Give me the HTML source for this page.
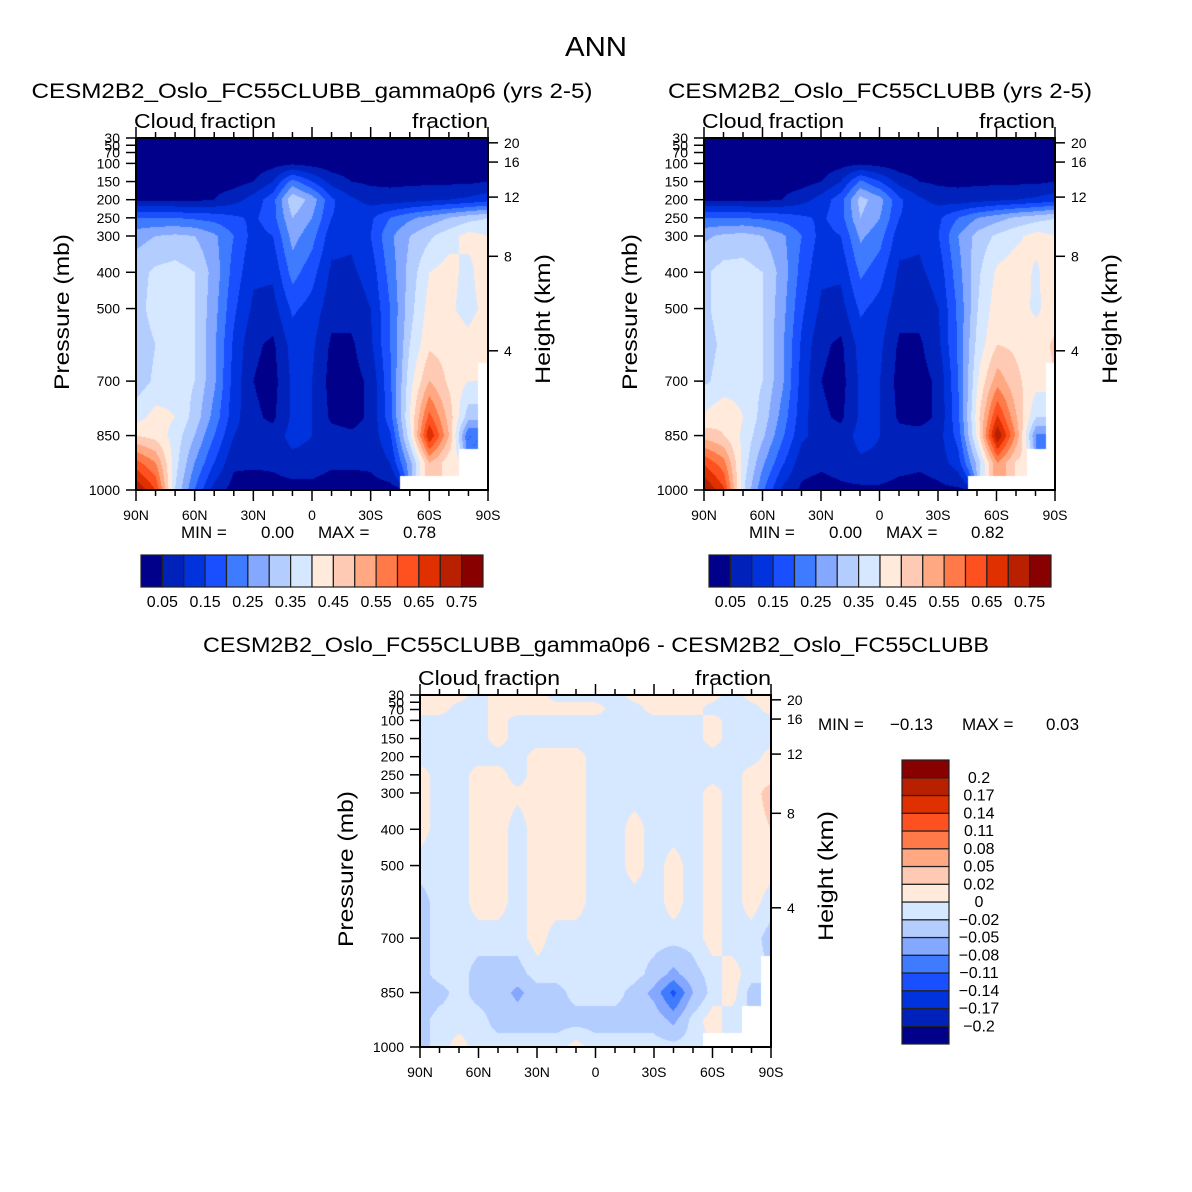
<!DOCTYPE html>
<html><head><meta charset="utf-8"><style>
body{margin:0;background:#fff;}
#wrap{position:relative;width:1192px;height:1192px;overflow:hidden;background:#fff;font-family:"Liberation Sans",sans-serif;}
canvas{position:absolute;}
svg{position:absolute;left:0;top:0;}
</style></head><body>
<div id="wrap">
<canvas id="cA" width="352" height="352" style="left:136px;top:138px"></canvas>
<canvas id="cB" width="352" height="352" style="left:704px;top:138px"></canvas>
<canvas id="cC" width="351" height="352" style="left:420px;top:695px"></canvas>
<svg id="ov" width="1192" height="1192"></svg>
</div>
<script>
// ---- data ----
const lats = [90,80,70,60,50,40,30,20,10,0,-10,-20,-30,-40,-50,-60,-70,-80,-90];
const plevs = [30,70,100,150,200,250,300,400,500,600,700,800,850,925,1000];
const levelsTop = [0.05,0.1,0.15,0.2,0.25,0.3,0.35,0.4,0.45,0.5,0.55,0.6,0.65,0.7,0.75];
const levelsDiff = [-0.2,-0.17,-0.14,-0.11,-0.08,-0.05,-0.02,0,0.02,0.05,0.08,0.11,0.14,0.17,0.2];
const colorsTop = ["#00008b","#0022bb","#0033dd","#1a4fff","#3f7bff","#84a8ff","#b4cdff","#d6e8ff","#ffeadb","#ffcab3","#ffa882","#ff7a48","#ff5020","#e03000","#b82000","#880000"];
const N = null;
// cloud fraction x100, rows = plevs, cols = lats
const fieldA = [
[2,2,2,2,2,2,2,2,2,2,2,2,2,2,2,2,2,2,2],
[2,2,2,2,2,2,2,2,2,2,2,2,2,2,2,2,2,2,2],
[2,2,2,2,2,2,2,3,4,3,2,2,2,2,2,2,2,2,2],
[3,3,3,3,3,3,5,10,22,15,8,5,4,4,4,4,4,4,5],
[4,4,4,4,5,8,12,18,34,28,16,11,8,7,8,9,10,11,13],
[20,20,20,19,18,16,14,18,30,25,15,13,14,20,24,27,30,33,35],
[28,30,31,30,26,20,13,15,27,22,12,11,15,24,30,34,38,42,40],
[33,36,37,35,28,18,11,11,22,17,9,9,12,22,32,40,42,38,45],
[33,37,37,35,27,16,9,8,16,13,7,7,10,20,33,42,41,38,42],
[32,35,37,35,26,14,6,4,12,11,4,4,9,20,35,44,43,42,45],
[32,36,38,35,26,13,5,3,11,10,3,3,6,19,38,50,44,40,N],
[38,42,40,33,23,12,6,4,11,10,4,3,6,18,40,62,48,32,N],
[45,43,38,30,20,10,7,7,12,10,7,6,7,14,38,70,50,20,N],
[62,55,37,25,15,6,6,6,8,8,6,6,6,10,28,50,42,N,N],
[75,65,35,20,8,3,2,3,3,3,2,2,3,3,N,N,N,N,N]];
const fieldB = [
[2,2,2,2,2,2,2,2,2,2,2,2,2,2,2,2,2,2,2],
[2,2,2,2,2,2,2,2,2,2,2,2,2,2,2,2,2,2,2],
[2,2,2,2,2,2,2,3,4,3,2,2,2,2,2,2,2,2,2],
[3,3,3,3,3,3,5,10,21,15,8,5,4,4,4,4,4,4,5],
[4,4,4,4,5,8,12,18,32,27,16,11,8,7,8,9,10,11,13],
[20,20,20,19,18,16,14,18,30,25,15,13,14,20,25,28,31,33,35],
[29,31,32,30,26,20,13,15,26,22,12,11,15,25,32,36,39,42,40],
[34,37,37,35,28,18,11,11,21,17,9,9,12,23,34,41,43,39,45],
[34,37,37,35,27,16,9,8,16,13,7,7,10,21,35,43,42,39,43],
[33,36,37,35,26,14,6,4,12,11,4,4,9,21,37,45,44,43,46],
[34,37,38,35,26,13,5,3,11,10,3,3,6,20,40,53,46,42,N],
[41,44,40,33,23,12,6,4,11,10,4,3,6,19,43,66,50,35,N],
[48,45,39,31,21,11,8,7,12,10,7,7,8,17,42,75,53,24,N],
[64,57,38,26,16,7,6,7,9,9,7,6,7,13,32,55,44,N,N],
[76,66,36,21,9,4,3,4,4,4,3,3,4,4,N,N,N,N,N]];
// difference x100
const fieldC = [
[1,1,1,-1,1,1,1,-1,-1,-1,-1,1,1,1,1,1,-1,1,1],
[1,1,-1,-1,1,1,1,1,1,1,-1,-1,1,1,1,-1,-1,-1,1],
[-1,-1,-1,-1,1,-1,-1,-1,-1,-1,-1,-1,-1,-1,-1,1,-1,-1,-1],
[-1,-1,-1,-1,1,-1,-1,-1,-1,-1,-1,-1,-1,-1,-1,1,-1,-1,-1],
[-1,-1,-1,-1,-1,-1,1,1,1,-1,-1,-1,-1,-1,-1,-1,-1,-1,1],
[1,-1,-1,1,1,-1,1,1,1,-1,-1,-1,-1,-1,-1,-1,-1,1,1],
[1,-1,-1,1,1,0.5,1,1,1,-1,-1,-1,-1,-1,-1,1,-1,1,3],
[1,-1,-1,1,1,-1,1,1,1,-1,-1,1,-1,-1,-1,1,-1,1,2],
[-1,-1,-1,1,1,-1,1,1,1,-1,-1,1,-1,1,-1,1,-1,1,1],
[-3,-1,-1,1,1,-1,1,1,1,-1,-1,-1,-1,1,-1,1,-1,1,-1],
[-3,-1,-1,-1,-1,-1,1,-1,-1,-1,-1,-1,-1,-1,-1,1,-1,-1,-3],
[-3,-1,-1,-3,-3,-3,-1,-1,-1,-1,-1,-1,-3,-6,-3,-1,1,-1,N],
[-4,-3,-1,-3,-3,-6,-3,-3,-1,-1,-1,-3,-6,-12,-5,-1,1,-3,N],
[-3,-1,-1,-1,-3,-3,-3,-3,-3,-3,-3,-3,-3,-6,-1,1,-1,N,N],
[-3,-1,1,-1,-1,-1,-1,-1,1,-1,-1,-1,-1,-1,-1,N,N,N,N]];
const xTickLabels = ["90N","60N","30N","0","30S","60S","90S"];
const pTickLabels = [30,50,70,100,150,200,250,300,400,500,700,850,1000];
const hTickLabels = [20,16,12,8,4];

// ---- rendering ----
function hex(c){return [parseInt(c.substr(1,2),16),parseInt(c.substr(3,2),16),parseInt(c.substr(5,2),16)];}
function pToFrac(p){return (p-30)/970;}
function render(id, field, levels, scale){
  const cv=document.getElementById(id), ctx=cv.getContext('2d');
  const W=cv.width,H=cv.height, img=ctx.createImageData(W,H);
  const cols=colorsTop.map(hex);
  for(let py=0;py<H;py++){
    const p=30+(py+0.5)/H*970;
    let k=0; while(k<plevs.length-2 && p>plevs[k+1]) k++;
    const t=Math.min(1,Math.max(0,(p-plevs[k])/(plevs[k+1]-plevs[k])));
    for(let px=0;px<W;px++){
      const f=(px+0.5)/W*(lats.length-1);
      let i=Math.min(lats.length-2,Math.floor(f)); const s=f-i;
      const cs=[[field[k][i],(1-s)*(1-t)],[field[k][i+1],s*(1-t)],[field[k+1][i],(1-s)*t],[field[k+1][i+1],s*t]];
      const ni=s<0.5?i:i+1, nk=t<0.5?k:k+1;
      const o=(py*W+px)*4;
      if(field[nk][ni]===null){img.data[o]=255;img.data[o+1]=255;img.data[o+2]=255;img.data[o+3]=255;continue;}
      let sw=0,sv=0; cs.forEach(c=>{if(c[0]!==null){sw+=c[1];sv+=c[0]*c[1];}});
      const v=sv/sw/scale;
      let ci=0; for(const l of levels){if(v>=l)ci++;}
      const c=cols[ci]; img.data[o]=c[0];img.data[o+1]=c[1];img.data[o+2]=c[2];img.data[o+3]=255;
    }
  }
  ctx.putImageData(img,0,0);
}
render('cA',fieldA,levelsTop,100);
render('cB',fieldB,levelsTop,100);
render('cC',fieldC,levelsDiff,100);

// ---- annotations ----
const svg=document.getElementById('ov'), NS='http://www.w3.org/2000/svg';
function el(tag,attrs,parent){const e=document.createElementNS(NS,tag);for(const k in attrs)e.setAttribute(k,attrs[k]);(parent||svg).appendChild(e);return e;}
function txt(x,y,s,size,anchor,name,extra){
  const e=el('text',Object.assign({x:x,y:y,'font-size':size,'text-anchor':anchor||'start','font-family':'Liberation Sans, sans-serif',fill:'#000'},extra||{}));
  e.textContent=s;
  
  
  return e;
}
function fit(len){return {textLength:len,lengthAdjust:'spacingAndGlyphs'};}
function line(x1,y1,x2,y2,w,name){
  const e=el('line',{x1:x1,y1:y1,x2:x2,y2:y2,stroke:'#000','stroke-width':w||1.5});
  
  
  return e;
}
function hToP(h){return 1013.25*Math.pow(1-2.25577e-5*h*1000,5.25588);}
function axes(x0,y0,W,H,prefix){
  const g=el('g',{});
  
  
  const fr=el('rect',{x:x0,y:y0,width:W,height:H,fill:'none',stroke:'#000','stroke-width':2},g);
  
  
  pTickLabels.forEach(p=>{
    const y=y0+pToFrac(p)*H;
    line(x0-10,y,x0,y,1.5,prefix+'-y-tick');
    txt(x0-16,y+5,String(p),14,'end',prefix+'-y-tick-label');
  });
  hTickLabels.forEach(h=>{
    const y=y0+pToFrac(hToP(h))*H;
    line(x0+W,y,x0+W+10,y,1.5,prefix+'-height-tick');
    txt(x0+W+16,y+5,String(h),14,'start',prefix+'-height-tick-label');
  });
  for(let j=0;j<=18;j++){
    const x=x0+j/18*W, major=(j%3===0), L=major?11:6;
    line(x,y0+H,x,y0+H+L,1.5,prefix+'-x-tick');
    line(x,y0,x,y0-L,1.5,prefix+'-x-tick-top');
  }
  xTickLabels.forEach((s,j)=>{txt(x0+j/6*W,y0+H+30,s,14,'middle',prefix+'-x-tick-label');});
  txt(x0-2,y0-10,'Cloud fraction',20,'start',prefix+'-left-string',fit(142));
  txt(x0+W,y0-10,'fraction',20,'end',prefix+'-right-string',fit(76));
  const yc=y0+H/2-2;
  txt(x0-74,yc+7,'Pressure (mb)',21,'middle',prefix+'-y-axis-title',Object.assign({transform:`rotate(-90 ${x0-74} ${yc})`},fit(156)));
  txt(x0+W+48,yc+7,'Height (km)',21,'middle',prefix+'-height-axis-title',Object.assign({transform:`rotate(-90 ${x0+W+55} ${yc})`},fit(130)));
}
axes(136,138,352,352,'left-panel');
axes(704,138,351,352,'right-panel');
axes(420,695,351,352,'diff-panel');

txt(596,56,'ANN',28,'middle','main-title',fit(62));
txt(312,98,'CESM2B2_Oslo_FC55CLUBB_gamma0p6 (yrs 2-5)',21,'middle','left-panel-title',fit(561));
txt(880,98,'CESM2B2_Oslo_FC55CLUBB (yrs 2-5)',21,'middle','right-panel-title',fit(424));
txt(596,652,'CESM2B2_Oslo_FC55CLUBB_gamma0p6 - CESM2B2_Oslo_FC55CLUBB',21,'middle','diff-panel-title',fit(786));

function minmax(x,y,mn,mx,prefix){
  txt(x,y,'MIN =',17,'start',prefix+'-min-label');
  txt(x+80,y,mn,17,'start',prefix+'-min-value');
  txt(x+137,y,'MAX =',17,'start',prefix+'-max-label');
  txt(x+222,y,mx,17,'start',prefix+'-max-value');
}
minmax(181,538,'0.00','0.78','left-panel');
minmax(749,538,'0.00','0.82','right-panel');
txt(818,730,'MIN =',17,'start','diff-min-label');
txt(890,730,'\u22120.13',17,'start','diff-min-value');
txt(962,730,'MAX =',17,'start','diff-max-label');
txt(1046,730,'0.03',17,'start','diff-max-value');

function hbar(x0,y0,W,H,prefix){
  const bw=W/16;
  colorsTop.forEach((c,i)=>{
    const r=el('rect',{x:x0+i*bw,y:y0,width:bw,height:H,fill:c,stroke:'#222','stroke-width':1.2});
    
    
  });
  levelsTop.forEach((l,i)=>{ if(i%2===0) txt(x0+(i+1)*bw,y0+H+20,l.toFixed(2),16,'middle',prefix+'-colorbar-label'); });
}
hbar(141,555,342,32,'left-panel');
hbar(709,555,342,32,'right-panel');
(function(){
  const x0=902,y0=760,W=47,H=284,bh=H/16;
  colorsTop.forEach((c,i)=>{
    const r=el('rect',{x:x0,y:y0+(15-i)*bh,width:W,height:bh,fill:c,stroke:'#222','stroke-width':1.2});
    
    
  });
  const rev=levelsDiff.slice().reverse();
  rev.forEach((l,j)=>{
    const s=(l<0?'\u2212':'')+String(Math.abs(l));
    txt(979,y0+(j+1)*bh+5,s,16,'middle','diff-colorbar-label');
  });
})();
</script>
</body></html>
